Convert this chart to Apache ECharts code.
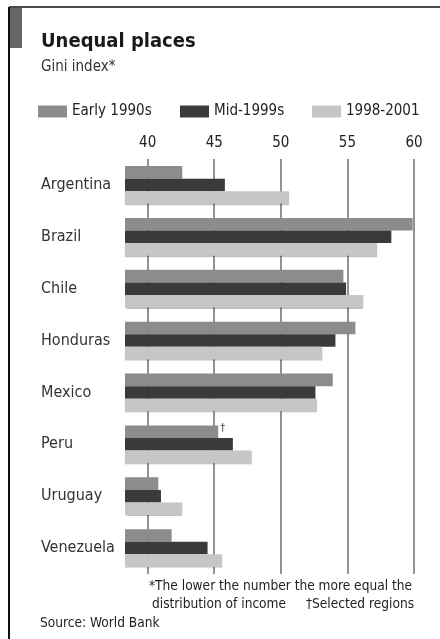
<!DOCTYPE html>
<html><head><meta charset="utf-8">
<script src="https://cdn.jsdelivr.net/npm/echarts@6/dist/echarts.min.js"></script>
<style>html,body{margin:0;padding:0;background:#fff}#c{width:440px;height:639px}</style>
</head><body><div id="c"></div>
<script>
const categories = ['Argentina','Brazil','Chile','Honduras','Mexico','Peru','Uruguay','Venezuela'];
const seriesNames = ['Early 1990s','Mid-1999s','1998-2001'];
const early = [42.6, 59.9, 54.7, 55.6, 53.9, 45.3, 40.8, 41.8];
const mid   = [45.8, 58.3, 54.9, 54.1, 52.6, 46.4, 41.0, 44.5];
const late  = [50.6, 57.2, 56.2, 53.1, 52.7, 47.8, 42.6, 45.6];
const tickValues = [40, 45, 50, 55, 60];
const daggerIndex = 5; // Peru, early 1990s: selected regions

const FONT = '"DejaVu Sans Condensed", "DejaVu Sans", sans-serif';
const colors = ['#8c8c8c', '#3a3a3a', '#c6c6c6'];

const chart = echarts.init(document.getElementById('c'), null, {renderer:'canvas'});

const earlyData = early.map((v,i)=> i===daggerIndex ? {
  value: v,
  label: {show:true, position:'right', formatter:'†', distance:2, fontSize:11, color:'#444', offset:[0,-4], fontFamily: FONT}
} : v);

function legendAt(name, left){
  return {
    data:[name], left: left, top: 104, padding:0, itemWidth: 29, itemHeight: 12, icon:'rect', itemGap: 4,
    textStyle:{fontFamily:FONT, fontSize:15, color:'#222'},
    selectedMode:false
  };
}

chart.setOption({
  backgroundColor:'#fff',
  animation:false,
  textStyle:{fontFamily:FONT},
  title:[
    {text:'Unequal places', left:41, top:32, padding:0, textStyle:{fontFamily:FONT, fontSize:20, fontWeight:'bold', color:'#1a1a1a'}},
    {text:'Gini index*', left:41, top:60, padding:0, textStyle:{fontFamily:FONT, fontSize:15, fontWeight:'normal', color:'#333'}}
  ],
  legend:[legendAt(seriesNames[0], 38), legendAt(seriesNames[1], 180), legendAt(seriesNames[2], 312)],
  grid:{left:125, right:26, top:159, height:415, containLabel:false},
  xAxis:{
    type:'value', position:'top', min:38.3, max:60,
    axisLabel:{customValues: tickValues, fontFamily:FONT, fontSize:15, color:'#222', margin:8},
    axisTick:{show:false, customValues: tickValues},
    axisLine:{show:false},
    splitLine:{show:true, lineStyle:{color:'#6e6e6e', width:1.5}}
  },
  yAxis:{
    type:'category', data:categories, inverse:true,
    axisLine:{show:false}, axisTick:{show:false},
    axisLabel:{align:'left', margin:84, fontFamily:FONT, fontSize:16, color:'#333'}
  },
  series:[
    {name:seriesNames[0], type:'bar', data:earlyData, itemStyle:{color:colors[0]}, barGap:'0%', barCategoryGap:'27%'},
    {name:seriesNames[1], type:'bar', data:mid, itemStyle:{color:colors[1]}, barGap:'0%', barCategoryGap:'27%'},
    {name:seriesNames[2], type:'bar', data:late, itemStyle:{color:colors[2], shadowColor:'rgba(0,0,0,0.25)', shadowBlur:1, shadowOffsetY:1}, barGap:'0%', barCategoryGap:'27%'}
  ],
  graphic:[
    {type:'line', shape:{x1:9, y1:7, x2:440, y2:7}, style:{stroke:'#111', lineWidth:1.5}},
    {type:'line', shape:{x1:9, y1:7, x2:9, y2:639}, style:{stroke:'#111', lineWidth:2}},
    {type:'rect', shape:{x:10, y:8, width:12, height:40}, style:{fill:'#666'}},
    {type:'text', left:149, top:579, style:{text:'*The lower the number the more equal the', font:'13.6px '+FONT, fill:'#222'}},
    {type:'text', left:152, top:597, style:{text:'distribution of income', font:'13.6px '+FONT, fill:'#222'}},
    {type:'text', right:26, top:597, style:{text:'†Selected regions', font:'13.6px '+FONT, fill:'#222'}},
    {type:'text', left:40, top:616, style:{text:'Source: World Bank', font:'13.6px '+FONT, fill:'#222'}}
  ]
});
</script></body></html>
